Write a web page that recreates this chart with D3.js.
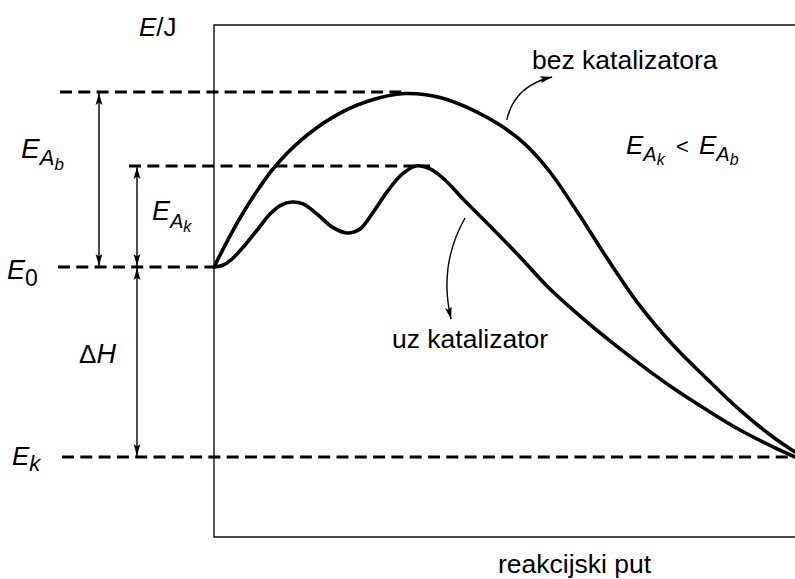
<!DOCTYPE html>
<html><head><meta charset="utf-8">
<script src="https://cdn.jsdelivr.net/npm/d3@7"></script>
<style>
body{margin:0;background:#fff}
svg{display:block}
text{font-family:"Liberation Sans",Arial,Helvetica,sans-serif;fill:#000}
</style>
</head><body>
<svg id="c" width="795" height="579"></svg>
<script>
// ---------- DATA (reaction coordinate 0..100, energy with E_k = 0, E_0 = 100) ----------
const levelNames  = ["E_k", "E_0", "E_Ak", "E_Ab"];
const levelValues = [0, 100, 153.2, 192.1];

// uncatalysed path ("bez katalizatora")
const bezX = [0, 2.24, 4.48, 7.40, 10.5, 14.8, 20.48, 26.33, 32.87, 38.9, 44.92, 49.23, 53.53, 57.83, 63.0, 67.64, 73.32, 79.0, 84.85, 90.53, 96.21, 100];
const bezY = [100, 113.4, 125.8, 140.0, 152.9, 166.3, 178.9, 187.1, 191.3, 189.2, 182.1, 174.7, 164.7, 150.0, 126.8, 104.7, 79.5, 58.9, 41.1, 24.7, 10.5, 2.6];

// catalysed path ("uz katalizator")
const uzX = [0, 1.38, 3.10, 5.34, 7.57, 9.64, 11.53, 13.43, 15.32, 17.73, 20.31, 22.89, 25.13, 27.19, 29.78, 32.19, 34.77, 37.18, 39.76, 42.86, 47.5, 52.67, 57.83, 63.0, 68.16, 73.32, 79.0, 84.85, 90.53, 96.21, 100];
const uzY = [100, 100.8, 104.2, 111.6, 120.0, 127.9, 132.6, 134.2, 133.2, 127.9, 121.1, 117.9, 120.0, 127.9, 139.5, 148.4, 153.2, 151.6, 145.8, 135.8, 121.6, 105.3, 88.4, 74.2, 61.1, 48.9, 36.3, 24.7, 14.2, 5.3, 0];

// pointer arrows to the curves (start, control, end) in data units
const bezPointer = [[50.4, 177.4], [51.7, 195.5], [58.2, 200.0]];
const uzPointer  = [[43.2, 125.8], [38.6, 100.8], [40.8, 72.6]];

// ---------- LAYOUT ----------
const frame = {left: 214, top: 25, bottom: 537, right: 820};
const x = d3.scaleLinear().domain([0, 100]).range([214, 795]);
const y = d3.scaleLinear().domain([0, 100]).range([457, 267]);

const svg = d3.select("#c");

// arrow marker
const defs = svg.append("defs");
defs.append("marker")
  .attr("id", "ah").attr("markerUnits", "userSpaceOnUse")
  .attr("viewBox", "0 0 12 8").attr("refX", 12).attr("refY", 4)
  .attr("markerWidth", 12).attr("markerHeight", 8).attr("orient", "auto-start-reverse")
  .append("path").attr("d", "M0,0.6 L12,4 L0,7.4 L2.5,4 Z").attr("fill", "#000");

// frame
svg.append("path")
  .attr("d", `M${frame.right},${frame.top} H${frame.left} V${frame.bottom} H${frame.right}`)
  .attr("fill", "none").attr("stroke", "#111").attr("stroke-width", 1.4);

// dashed energy levels
const dashExtent = {"E_k": [62, 800], "E_0": [58, 214], "E_Ak": [129, 430], "E_Ab": [60, 407]};
svg.append("g").selectAll("line").data(levelNames).join("line")
  .attr("x1", d => dashExtent[d][0]).attr("x2", d => dashExtent[d][1])
  .attr("y1", (d, i) => y(levelValues[i])).attr("y2", (d, i) => y(levelValues[i]))
  .attr("stroke", "#000").attr("stroke-width", 3).attr("stroke-dasharray", "12,6.3");

const lv = name => y(levelValues[levelNames.indexOf(name)]);

// double-headed vertical arrows
const vArrows = [
  {px: 99,  from: "E_0", to: "E_Ab"},
  {px: 137, from: "E_0", to: "E_Ak"},
  {px: 137, from: "E_k", to: "E_0"}
];
svg.append("g").selectAll("line").data(vArrows).join("line")
  .attr("x1", d => d.px).attr("x2", d => d.px)
  .attr("y1", d => lv(d.from) - 1).attr("y2", d => lv(d.to) + 1)
  .attr("stroke", "#000").attr("stroke-width", 1.4)
  .attr("marker-start", "url(#ah)").attr("marker-end", "url(#ah)");

// curves
const line = d3.line().x(d => x(d[0])).y(d => y(d[1])).curve(d3.curveCatmullRom.alpha(0.5));
const bez = bezX.map((v, i) => [v, bezY[i]]);
const uz  = uzX.map((v, i) => [v, uzY[i]]);
[bez, uz].forEach(pts => {
  svg.append("path").attr("d", line(pts))
    .attr("fill", "none").attr("stroke", "#000").attr("stroke-width", 3.6)
    .attr("stroke-linejoin", "round").attr("stroke-linecap", "round");
});

// pointer arrows
[bezPointer, uzPointer].forEach(p => {
  const [a, c, b] = p.map(q => [x(q[0]), y(q[1])]);
  svg.append("path").attr("d", `M${a[0]},${a[1]} Q${c[0]},${c[1]} ${b[0]},${b[1]}`)
    .attr("fill", "none").attr("stroke", "#000").attr("stroke-width", 1.4)
    .attr("marker-end", "url(#ah)");
});

// ---------- TEXT ----------
function label(px, py, parts) {
  const t = svg.append("text").attr("x", px).attr("y", py);
  parts.forEach(p => {
    const s = t.append("tspan").text(p.t)
      .attr("font-size", p.size || 26)
      .attr("font-style", p.it ? "italic" : "normal");
    if (p.dy) s.attr("dy", p.dy);
    if (p.x !== undefined) s.attr("x", p.x);
  });
  return t;
}

label(139, 36, [{t: "E", it: true, size: 26}, {t: "/J", size: 26}]);
label(21, 158, [{t: "E", it: true, size: 28}, {t: "A", it: true, size: 22, dy: 7}, {t: "b", it: true, size: 17, dy: 5}]);
label(152, 220, [{t: "E", it: true, size: 27}, {t: "A", it: true, size: 20, dy: 8}, {t: "k", it: true, size: 16, dy: 4}]);
label(7, 279, [{t: "E", it: true, size: 27}, {t: "0", size: 23, dy: 7}]);
label(12, 465, [{t: "E", it: true, size: 26}, {t: "k", it: true, size: 22, dy: 6}]);
label(79, 363, [{t: "\u0394", size: 26}, {t: "H", it: true, size: 27}]);
label(626, 154, [
  {t: "E", it: true, size: 26}, {t: "A", it: true, size: 20, dy: 7}, {t: "k", it: true, size: 16, dy: 4},
  {t: "<", size: 22, dy: -11, x: 676}, {t: "E", it: true, size: 26, x: 699},
  {t: "A", it: true, size: 20, dy: 7}, {t: "b", it: true, size: 16, dy: 4}
]);

svg.append("text").attr("x", 532).attr("y", 69).attr("font-size", 26.5).text("bez katalizatora");
svg.append("text").attr("x", 392).attr("y", 348).attr("font-size", 26.5).text("uz katalizator");
svg.append("text").attr("x", 498).attr("y", 573).attr("font-size", 26.5).text("reakcijski put");
</script>
</body></html>
